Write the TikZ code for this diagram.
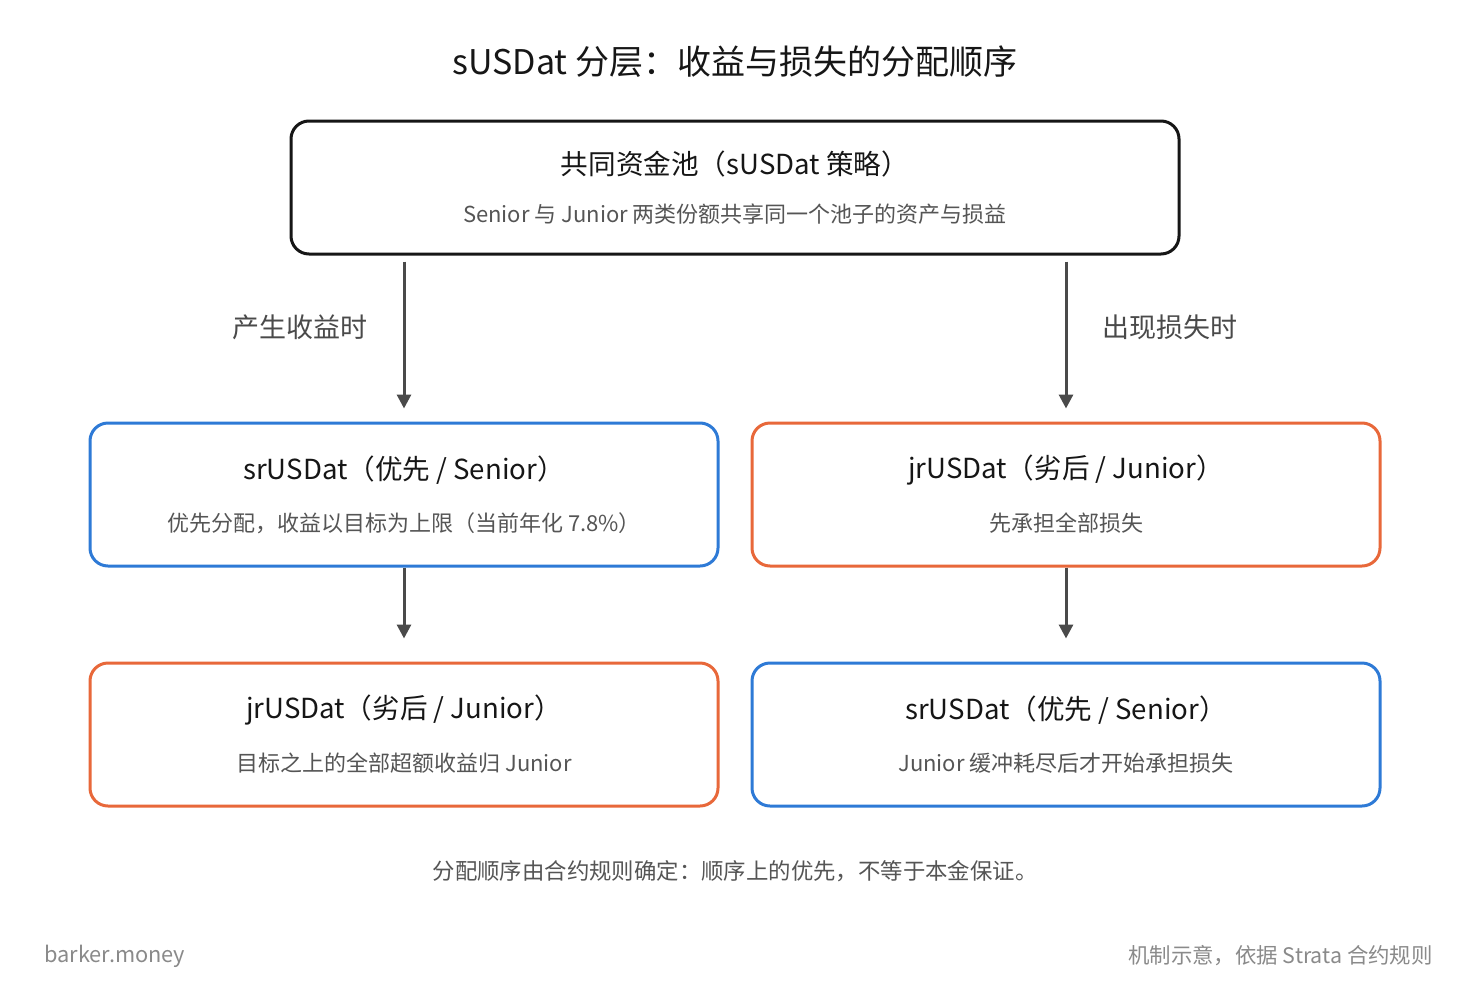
\documentclass[tikz,border=0pt]{standalone}
\usepackage{fontspec}
\setmainfont{Noto Sans CJK SC}
\usetikzlibrary{arrows.meta}
\definecolor{cblue}{HTML}{2E7AD6}
\definecolor{corange}{HTML}{E8683A}
\definecolor{cdark}{HTML}{161616}
\definecolor{csub}{HTML}{555555}
\definecolor{carrow}{HTML}{4A4A4A}
\definecolor{cfoot}{HTML}{8A8A8A}
\tikzset{
  box/.style={draw, line width=1.5pt, rounded corners=9pt, minimum width=314pt, minimum height=71.5pt, inner sep=0pt},
  bluebox/.style={box, draw=cblue},
  orangebox/.style={box, draw=corange},
  boxtitle/.style={text=cdark, font=\fontsize{13.8}{15}\selectfont, inner sep=0pt},
  boxsub/.style={text=csub, font=\fontsize{11}{12}\selectfont, inner sep=0pt},
  arr/.style={draw=carrow, line width=1.5pt, -{Triangle[width=7pt,length=7pt]}},
  arrlabel/.style={text=carrow, font=\fontsize{13.5}{14}\selectfont, inner sep=0pt},
}
\begin{document}
\begin{tikzpicture}[x=0.5pt,y=-0.5pt]
\useasboundingbox[fill=white] (0,0) rectangle (1470,990);
\node[text=cdark, font=\fontsize{17}{18}\selectfont, inner sep=0pt] (title) at (735,62) {sUSDat 分层：收益与损失的分配顺序};

\node[box, draw=cdark, minimum width=444pt, minimum height=66.5pt] (pool) at (735,187.5) {};
\node[boxtitle] (pooltitle) at (735,164) {共同资金池（sUSDat 策略）};
\node[boxsub] (poolsub) at (735,214) {Senior 与 Junior 两类份额共享同一个池子的资产与损益};

\node[bluebox] (sr1) at (404,494.5) {};
\node[boxtitle] (sr1t) at (404,470) {srUSDat（优先 / Senior）};
\node[boxsub] (sr1s) at (404,523) {优先分配，收益以目标为上限（当前年化 7.8\%）};

\node[orangebox] (jr1) at (1066,494.5) {};
\node[boxtitle] (jr1t) at (1066,470) {jrUSDat（劣后 / Junior）};
\node[boxsub] (jr1s) at (1066,523) {先承担全部损失};

\node[orangebox] (jr2) at (404,734.5) {};
\node[boxtitle] (jr2t) at (404,710) {jrUSDat（劣后 / Junior）};
\node[boxsub] (jr2s) at (404,763) {目标之上的全部超额收益归 Junior};

\node[bluebox] (sr2) at (1066,734.5) {};
\node[boxtitle] (sr2t) at (1066,710) {srUSDat（优先 / Senior）};
\node[boxsub] (sr2s) at (1066,763) {Junior 缓冲耗尽后才开始承担损失};

\draw[arr] ([yshift=-3pt]pool.south -| sr1.north) -- ([yshift=6.5pt]sr1.north);
\draw[arr] ([yshift=-3pt]pool.south -| jr1.north) -- ([yshift=6.5pt]jr1.north);
\draw[arr] (sr1.south) -- ([yshift=11.5pt]jr2.north);
\draw[arr] (jr1.south) -- ([yshift=11.5pt]sr2.north);

\node[arrlabel] (gain) at (300,327) {产生收益时};
\node[arrlabel] (loss) at (1170,327) {出现损失时};

\node[text=csub, font=\fontsize{11.2}{12}\selectfont, inner sep=0pt] (note) at (735,871) {分配顺序由合约规则确定：顺序上的优先，不等于本金保证。};
\node[text=cfoot, font=\fontsize{10.9}{12}\selectfont, inner sep=0pt, anchor=west] (brand) at (44,956) {barker.money};
\node[text=cfoot, font=\fontsize{10.7}{12}\selectfont, inner sep=0pt, anchor=east] (src) at (1433,956) {机制示意，依据 Strata 合约规则};
\end{tikzpicture}
\end{document}
